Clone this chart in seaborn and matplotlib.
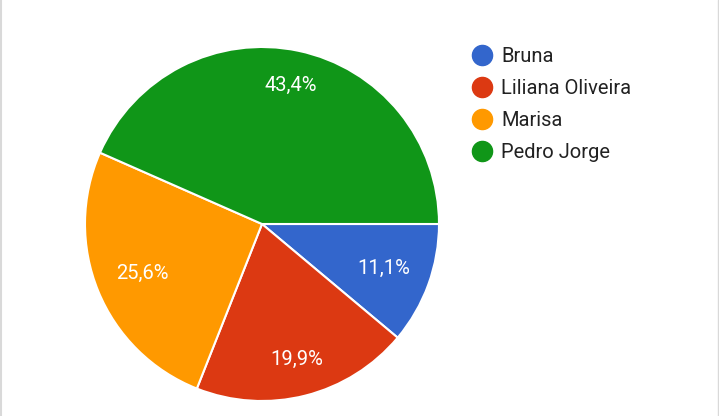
import matplotlib
matplotlib.use("Agg")
import matplotlib.pyplot as plt
from matplotlib.lines import Line2D
import numpy as np
import seaborn as sns

names = ["Bruna", "Liliana Oliveira", "Marisa", "Pedro Jorge"]
shares = [11.1, 19.9, 25.6, 43.4]
colors = ["#3366cc", "#dc3912", "#ff9900", "#109618"]

sns.set_theme(style="white")
plt.rcParams["font.family"] = ["Roboto", "DejaVu Sans"]

W, H = 719, 416
fig = plt.figure(figsize=(W / 100, H / 100), dpi=100)
fig.patch.set_facecolor("white")

cx, cy, r = 262, 224, 177
ax = fig.add_axes([(cx - r) / W, (H - cy - r) / H, 2 * r / W, 2 * r / H])
wedges, texts, autotexts = ax.pie(
    shares,
    colors=colors,
    startangle=0,
    counterclock=False,
    autopct=lambda p: f"{p:.1f}%".replace(".", ","),
    pctdistance=0.75,
    wedgeprops=dict(edgecolor="white", linewidth=1.5),
    textprops=dict(color="white", fontsize=14.5),
)
# label radial distances tuned to match the reference placement
label_dist = [0.73, 0.79, 0.73, 0.80]
for w, t, d in zip(wedges, autotexts, label_dist):
    ang = np.deg2rad((w.theta1 + w.theta2) / 2)
    t.set_position((d * np.cos(ang), d * np.sin(ang)))

ax.set_xlim(-1.0, 1.0)
ax.set_ylim(-1.0, 1.0)
ax.set_aspect("equal")
ax.axis("off")

handles = [
    Line2D([0], [0], marker="o", linestyle="none", markersize=14.5,
           markerfacecolor=c, markeredgecolor=c)
    for c in colors
]
fig.legend(
    handles, names,
    loc="upper left",
    bbox_to_anchor=(454 / W, (H - 29) / H),
    frameon=False,
    fontsize=14.5,
    labelspacing=0.65,
    handletextpad=0.45,
    handlelength=1.0,
    borderpad=0.4,
    labelcolor="#222222",
)

# faint frame edges at the left and right of the screenshot
for xpx, lw in [(1.0, 1.5), (718.0, 1.0)]:
    fig.add_artist(Line2D([xpx / W, xpx / W], [0, 1], transform=fig.transFigure,
                          color="#d9d9d9", linewidth=lw))

fig.savefig("out.png", dpi=100, facecolor="white")
